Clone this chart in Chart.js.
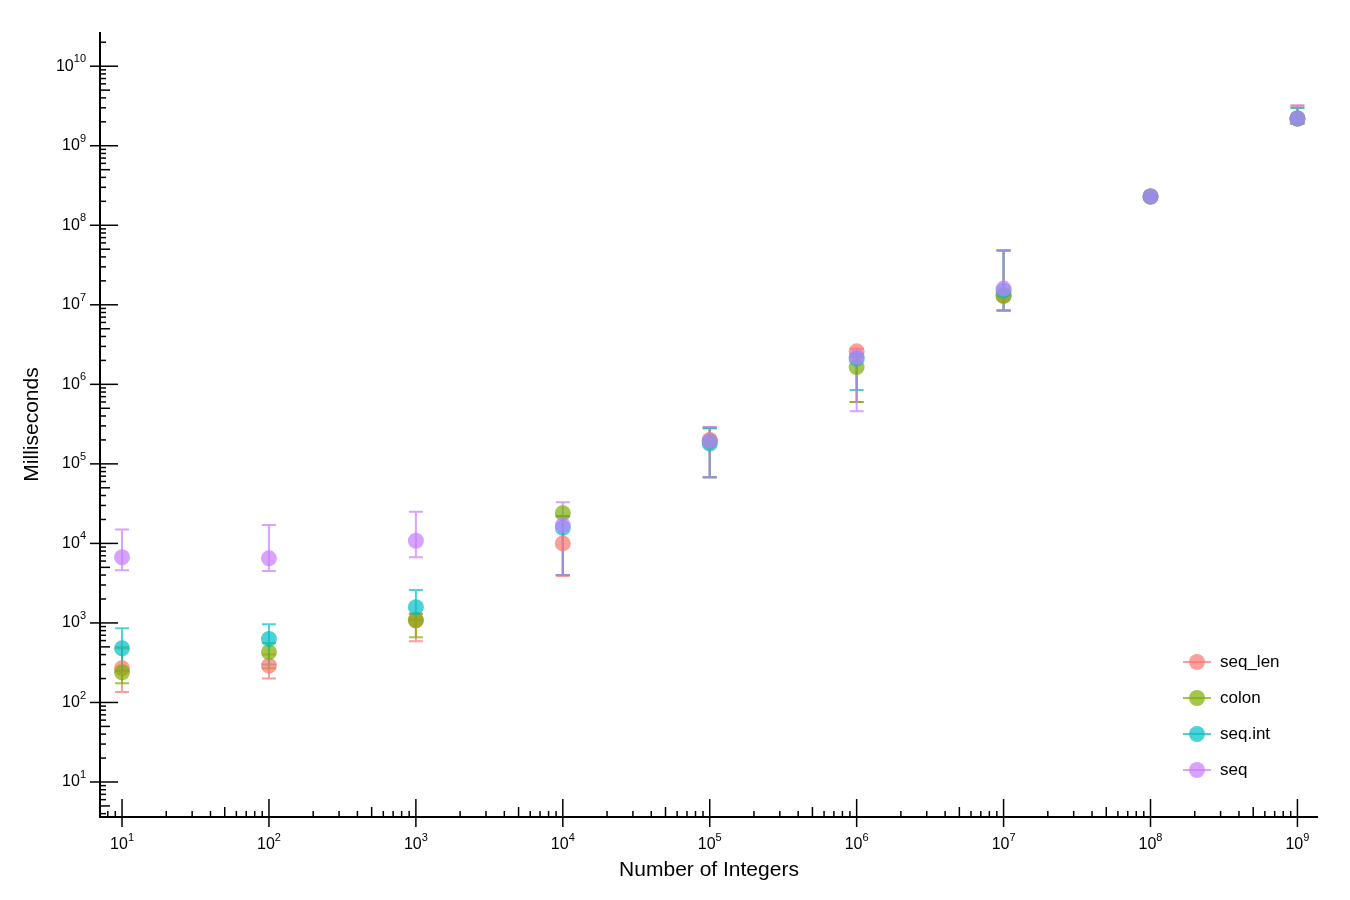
<!DOCTYPE html>
<html><head><meta charset="utf-8">
<script src="https://cdn.jsdelivr.net/npm/chart.js@4"></script>
<style>html,body{margin:0;padding:0;background:#fff}#w{width:1350px;height:900px}</style>
</head><body><div id="w"><canvas id="c"></canvas></div>
<script>
const sizes = [1e1,1e2,1e3,1e4,1e5,1e6,1e7,1e8,1e9];
const yTickExps = [1,2,3,4,5,6,7,8,9,10];
const seriesNames = ['seq_len','colon','seq.int','seq'];
const colors = ['248,118,109','124,174,0','0,191,196','199,124,255'];
const seqLen = [270,290,1080,10000,200000,2.6e6,1.3e7,2.3e8,2.2e9];
const seqLenLo = [135,200,590,3900,68000,600000,8.5e6,2.2e8,1.9e9];
const seqLenHi = [500,400,1300,22000,290000,2.8e6,4.8e7,2.4e8,3.2e9];
const colon = [240,430,1080,24000,190000,1.65e6,1.3e7,2.3e8,2.2e9];
const colonLo = [175,270,660,4000,68000,600000,8.5e6,2.2e8,1.9e9];
const colonHi = [480,560,1300,22000,280000,2.2e6,4.8e7,2.4e8,3.0e9];
const seqInt = [480,630,1580,15700,180000,2.1e6,1.5e7,2.3e8,2.2e9];
const seqIntLo = [250,300,1100,4000,68000,850000,8.5e6,2.2e8,1.9e9];
const seqIntHi = [860,960,2600,22000,280000,2.4e6,4.8e7,2.4e8,3.0e9];
const seqV = [6700,6500,10800,17000,195000,2.2e6,1.6e7,2.3e8,2.2e9];
const seqLo = [4600,4500,6700,4000,68000,460000,8.5e6,2.2e8,1.9e9];
const seqHi = [15000,17000,25000,33000,290000,2.4e6,4.8e7,2.4e8,3.2e9];
const vals=[seqLen,colon,seqInt,seqV], los=[seqLenLo,colonLo,seqIntLo,seqLo], his=[seqLenHi,colonHi,seqIntHi,seqHi];
const FF='"Liberation Sans", Arial, sans-serif';

const datasets = seriesNames.map((n,i)=>({
  label:n, order:3-i,
  data:sizes.map((s,j)=>({x:s,y:vals[i][j],lo:los[i][j],hi:his[i][j]})),
  backgroundColor:`rgba(${colors[i]},0.7)`, borderColor:`rgba(${colors[i]},0)`,
  pointRadius:8, pointHoverRadius:8
}));

function pow10(c,x,y,e,align){
  c.font='16px '+FF; const w1=c.measureText('10').width;
  c.font='11px '+FF; const w2=c.measureText(String(e)).width;
  let x0 = align==='right' ? x-w1-w2 : x-(w1+w2)/2;
  c.textAlign='left'; c.textBaseline='middle';
  c.font='16px '+FF; c.fillText('10',x0,y);
  c.font='11px '+FF; c.fillText(String(e),x0+w1,y-7);
}

const plug = {
  id:'extras',
  beforeDatasetsDraw(ch){
    const c=ch.ctx, xs=ch.scales.x, ys=ch.scales.y;
    ch.data.datasets.forEach((d,i)=>{
      c.save(); c.strokeStyle=`rgba(${colors[i]},0.7)`; c.lineWidth=2;
      d.data.forEach(p=>{
        const x=xs.getPixelForValue(p.x), y1=ys.getPixelForValue(p.lo), y2=ys.getPixelForValue(p.hi);
        c.beginPath(); c.moveTo(x,y1); c.lineTo(x,y2);
        c.moveTo(x-7,y1); c.lineTo(x+7,y1); c.moveTo(x-7,y2); c.lineTo(x+7,y2); c.stroke();
      });
      c.restore();
    });
  },
  afterDraw(ch){
    const c=ch.ctx, xs=ch.scales.x, ys=ch.scales.y, a=ch.chartArea;
    c.save(); c.strokeStyle='#000'; c.fillStyle='#000'; c.lineWidth=2;
    c.beginPath(); c.moveTo(a.left,a.top); c.lineTo(a.left,a.bottom); c.lineTo(a.right,a.bottom); c.stroke();
    c.lineWidth=1.5;
    for(let e=0;e<=11;e++) for(let m=1;m<=9;m++){
      const v=m*Math.pow(10,e); const len=m===1?18:(m===5?10:6);
      const y=ys.getPixelForValue(v);
      if(y>=a.top&&y<=a.bottom){c.beginPath();c.moveTo(a.left-(m===1?10:0),y);c.lineTo(a.left+len,y);c.stroke();}
      const x=xs.getPixelForValue(v);
      if(x>=a.left&&x<=a.right){c.beginPath();c.moveTo(x,a.bottom+(m===1?10:0));c.lineTo(x,a.bottom-len);c.stroke();}
    }
    sizes.forEach(v=>pow10(c,xs.getPixelForValue(v),a.bottom+28,Math.round(Math.log10(v)),'center'));
    yTickExps.forEach(e=>pow10(c,a.left-14,ys.getPixelForValue(Math.pow(10,e)),e,'right'));
    c.font='21px '+FF; c.textAlign='center'; c.textBaseline='middle';
    c.fillText('Number of Integers',(a.left+a.right)/2,870);
    c.save(); c.translate(32,(a.top+a.bottom)/2); c.rotate(-Math.PI/2); c.fillText('Milliseconds',0,0); c.restore();
    // legend
    c.font='17px '+FF; c.textAlign='left'; c.textBaseline='middle';
    seriesNames.forEach((n,i)=>{
      const y=662+i*36, x=1197;
      c.strokeStyle=`rgba(${colors[i]},0.7)`; c.lineWidth=2;
      c.beginPath(); c.moveTo(x-14,y); c.lineTo(x+14,y); c.stroke();
      c.fillStyle=`rgba(${colors[i]},0.7)`; c.beginPath(); c.arc(x,y,8,0,Math.PI*2); c.fill();
      c.fillStyle='#000'; c.fillText(n,1220,y);
    });
    c.restore();
  }
};

Chart.defaults.font.family=FF;
Chart.defaults.color='#000';
new Chart(document.getElementById('c'),{
  type:'scatter', data:{datasets}, plugins:[plug],
  options:{
    responsive:true, maintainAspectRatio:false, animation:false,
    layout:{padding:{top:32,right:32,left:0,bottom:0}},
    plugins:{legend:{display:false},tooltip:{enabled:false}},
    scales:{
      x:{type:'logarithmic', min:Math.pow(10,0.85), max:Math.pow(10,9.14),
        grid:{display:false,drawTicks:false}, border:{display:false},
        ticks:{display:false}, afterFit(s){s.height=83;}},
      y:{type:'logarithmic', min:Math.pow(10,0.56), max:Math.pow(10,10.43),
        grid:{display:false,drawTicks:false}, border:{display:false},
        ticks:{display:false}, afterFit(s){s.width=100;}}
    }
  }
});
</script></body></html>
